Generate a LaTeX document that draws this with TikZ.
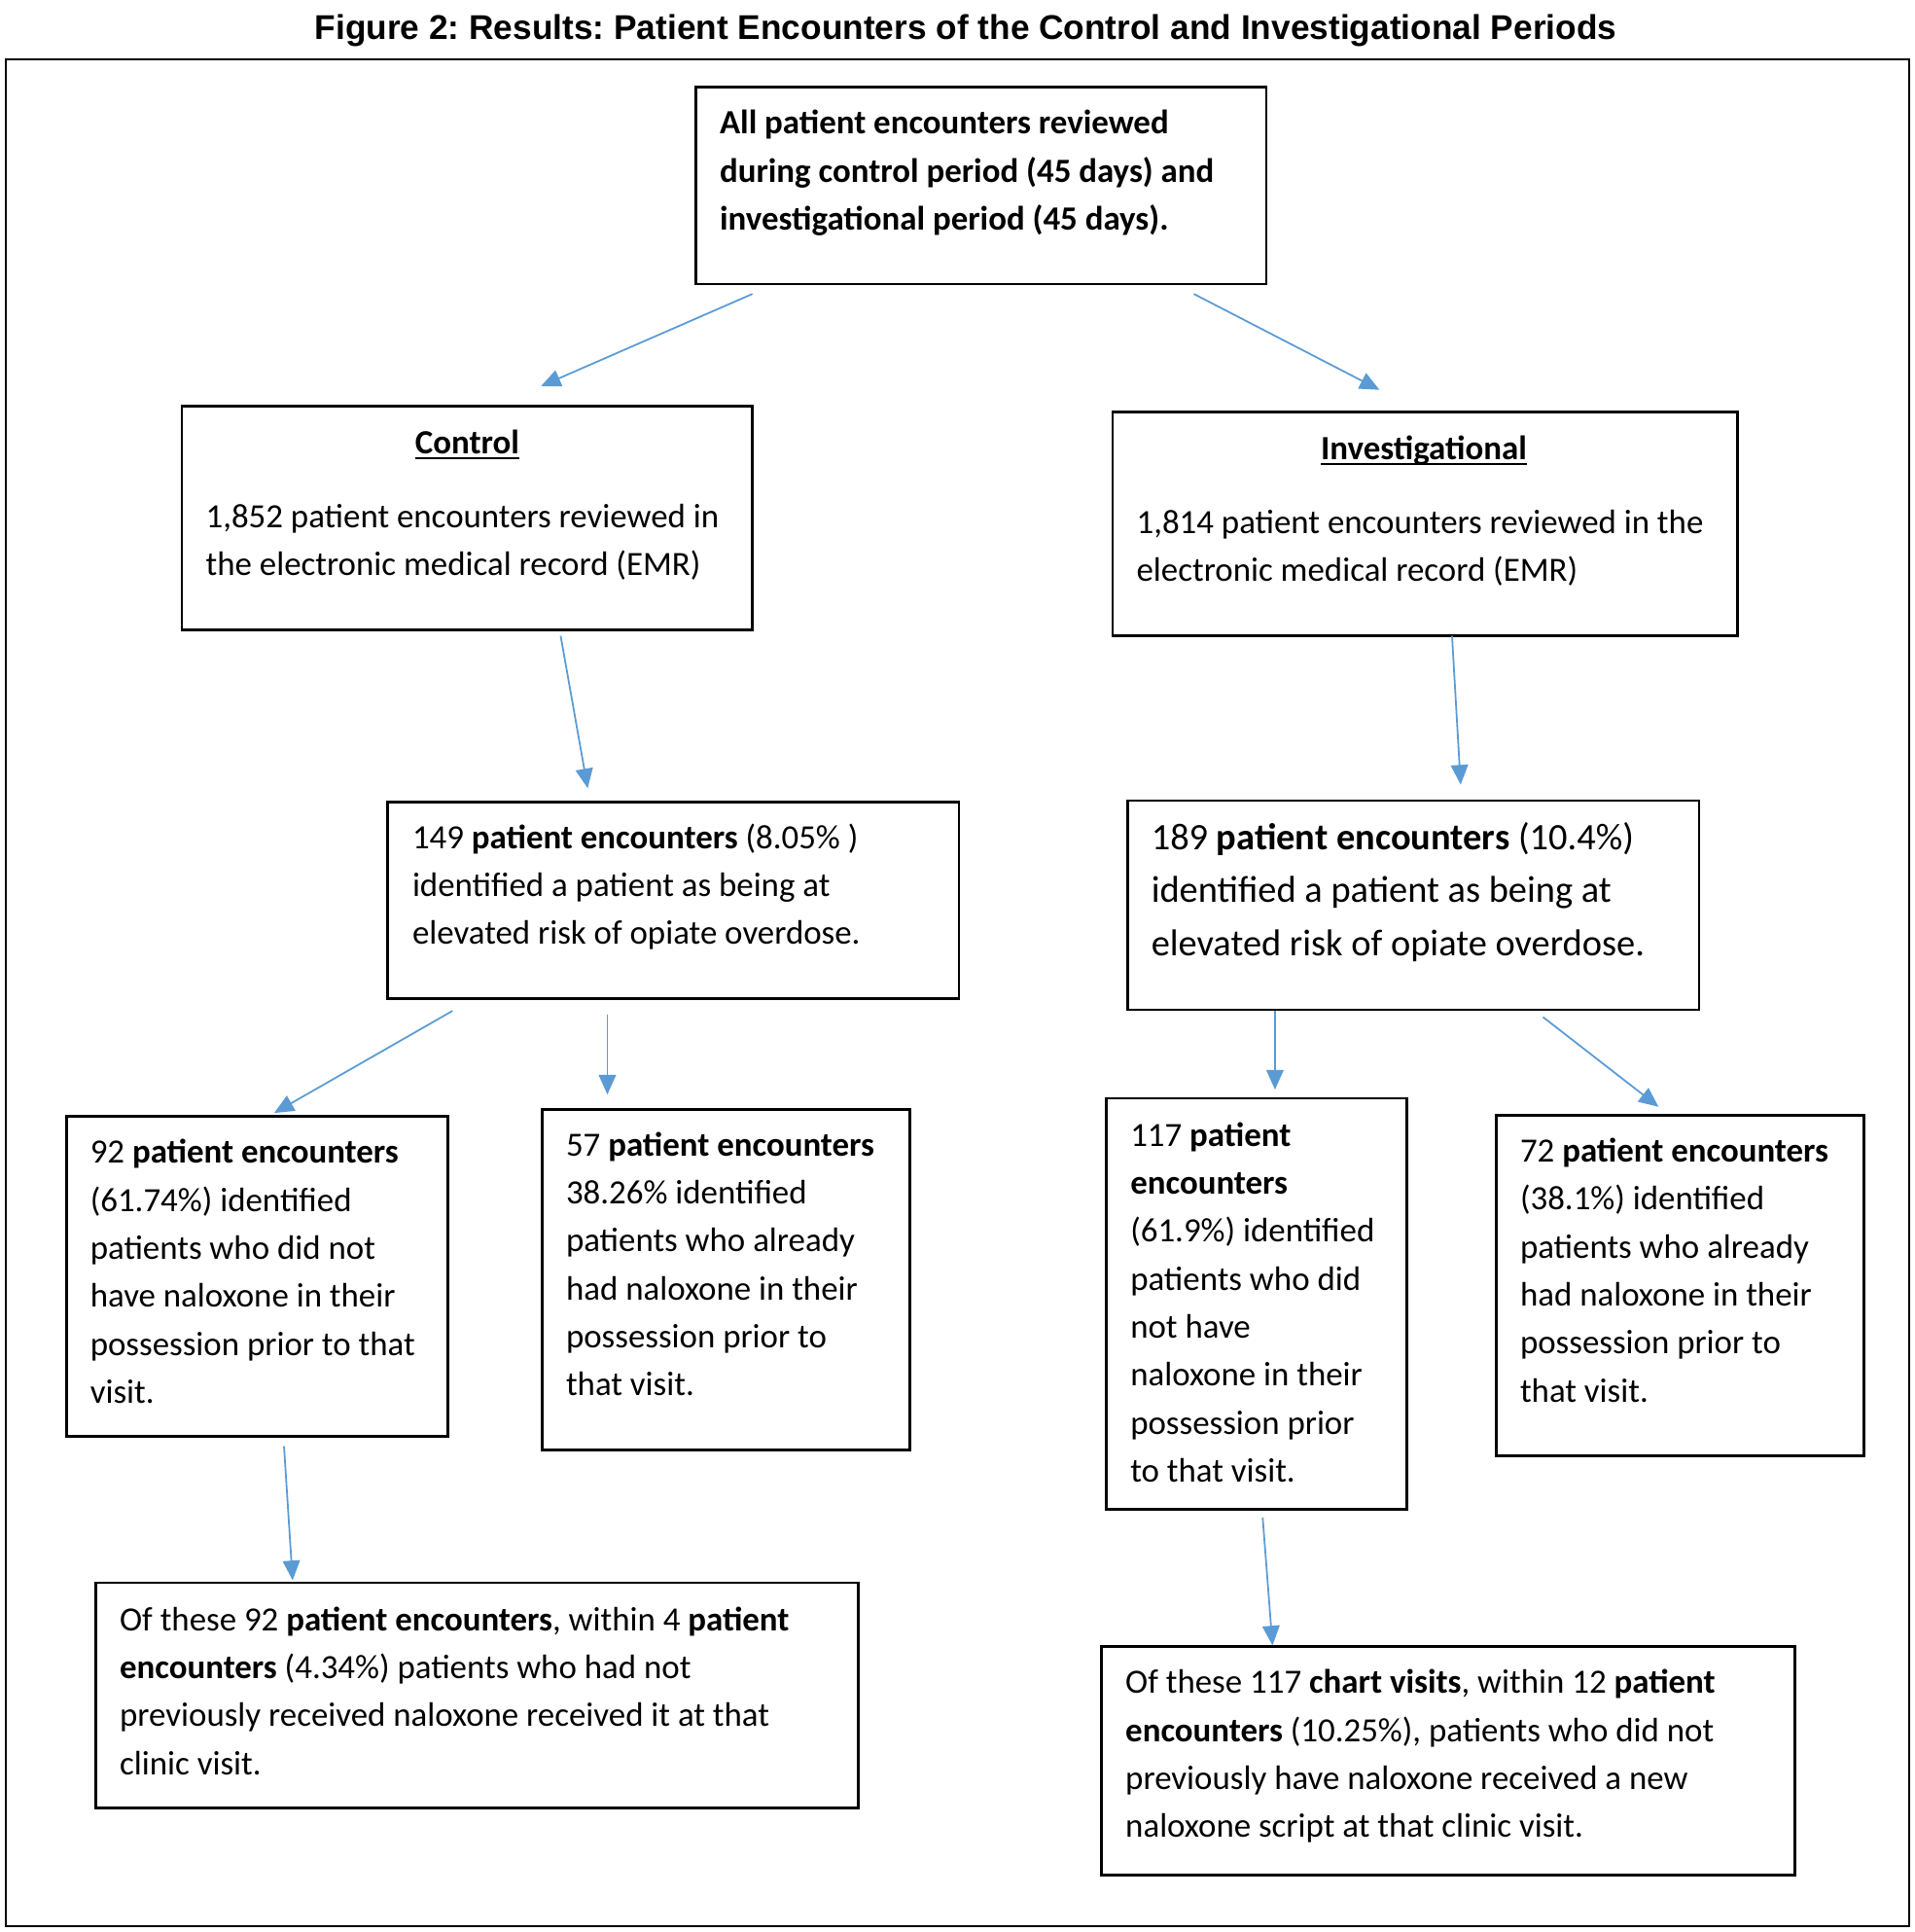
\documentclass[tikz,border=0pt]{standalone}
\usepackage{fontspec}
\setmainfont{Carlito}
\newfontfamily\titlefont{Liberation Sans}
\usetikzlibrary{arrows.meta,fit}
\definecolor{arrblue}{HTML}{5B9BD5}
\newcommand\myul[1]{\setbox0\hbox{#1}\rlap{\rule[-2pt]{\wd0}{0.8pt}}\box0}
\frenchspacing
\begin{document}
\begin{tikzpicture}[x=0.5pt,y=-0.5pt,
  box/.style={draw=black,line width=1.1pt,inner sep=0pt},
  frame/.style={draw=black,line width=0.8pt,inner sep=0pt},
  txt/.style={inner sep=0pt,align=left,anchor=base west,font=\fontsize{13.8}{19.5}\selectfont},
  bigtxt/.style={inner sep=0pt,align=left,anchor=base west,font=\fontsize{15.2}{21.5}\selectfont},
  head/.style={inner sep=0pt,anchor=base,font=\fontsize{13.8}{19.5}\selectfont\bfseries},
  arr/.style={draw=arrblue,line width=0.7pt,-{Triangle[length=8pt,width=7pt]}}]
\useasboundingbox (0,0) rectangle (1557,1571);
% title
\node[inner sep=0pt,anchor=base,font=\titlefont\bfseries\fontsize{13.95}{16}\selectfont] (title) at (785.5,32) {Figure 2: Results: Patient Encounters of the Control and Investigational Periods};
% outer frame
\node[frame,fit={(5,48) (1553,1566)}] (outer) {};
% boxes
\node[box,fit={(566,71) (1030,231)}] (top) {};
\node[box,fit={(148,330) (612,512)}] (ctrl) {};
\node[box,fit={(905,335) (1413,517)}] (inv) {};
\node[box,fit={(315,652) (780,812)}] (cA) {};
\node[box,fit={(917,651) (1382,821)}] (iA) {};
\node[box,fit={(54,908) (364,1168)}] (cB) {};
\node[box,fit={(441,902) (740,1179)}] (cC) {};
\node[box,fit={(900,893) (1144,1227)}] (iB) {};
\node[box,fit={(1217,907) (1516,1184)}] (iC) {};
\node[box,fit={(78,1287) (698,1470)}] (cD) {};
\node[box,fit={(896,1339) (1460,1525)}] (iD) {};
% texts (anchored at the baseline of their last line)
\node[txt,font=\fontsize{13.8}{19.5}\selectfont\bfseries] (topt) at (585,187) {All patient encounters reviewed\\during control period (45 days) and\\investigational period (45 days).};
\node[head] (ctrlh) at (380,369) {\myul{Control}};
\node[txt] (ctrlt) at (167,468) {1,852 patient encounters reviewed in\\the electronic medical record (EMR)};
\node[head] (invh) at (1158,374) {\myul{Investigational}};
\node[txt] (invt) at (924,473) {1,814 patient encounters reviewed in the\\electronic medical record (EMR)};
\node[txt] (cAt) at (335,768) {149 \textbf{patient encounters} (8.05\% )\\identified a patient as being at\\elevated risk of opiate overdose.};
\node[bigtxt] (iAt) at (936,777) {189 \textbf{patient encounters} (10.4\%)\\identified a patient as being at\\elevated risk of opiate overdose.};
\node[txt] (cBt) at (73,1141) {92 \textbf{patient encounters}\\(61.74\%) identified\\patients who did not\\have naloxone in their\\possession prior to that\\visit.};
\node[txt] (cCt) at (460,1135) {57 \textbf{patient encounters}\\38.26\% identified\\patients who already\\had naloxone in their\\possession prior to\\that visit.};
\node[txt] (iBt) at (919,1205) {117 \textbf{patient}\\\textbf{encounters}\\(61.9\%) identified\\patients who did\\not have\\naloxone in their\\possession prior\\to that visit.};
\node[txt] (iCt) at (1236,1140) {72 \textbf{patient encounters}\\(38.1\%) identified\\patients who already\\had naloxone in their\\possession prior to\\that visit.};
\node[txt] (cDt) at (97,1443) {Of these 92 \textbf{patient encounters}, within 4 \textbf{patient}\\\textbf{encounters} (4.34\%) patients who had not\\previously received naloxone received it at that\\clinic visit.};
\node[txt] (iDt) at (915,1494) {Of these 117 \textbf{chart visits}, within 12 \textbf{patient}\\\textbf{encounters} (10.25\%), patients who did not\\previously have naloxone received a new\\naloxone script at that clinic visit.};
% arrow end points
\coordinate (a1s) at (612,239); \coordinate (a1e) at (440,314);
\coordinate (a2s) at (971,239); \coordinate (a2e) at (1122,317);
\coordinate (a3s) at (456,517); \coordinate (a3e) at (478,641);
\coordinate (a4s) at (1181,517); \coordinate (a4e) at (1188,638);
\coordinate (a5s) at (368,822); \coordinate (a5e) at (223,905);
\coordinate (a6s) at (494,825); \coordinate (a6e) at (494,890);
\coordinate (a7s) at (1037,822); \coordinate (a7e) at (1037,886);
\coordinate (a8s) at (1255,827); \coordinate (a8e) at (1349,900);
\coordinate (a9s) at (231,1176); \coordinate (a9e) at (238,1285);
\coordinate (a10s) at (1027,1234); \coordinate (a10e) at (1035,1338);
\draw[arr] (a1s) -- (a1e);
\draw[arr] (a2s) -- (a2e);
\draw[arr] (a3s) -- (a3e);
\draw[arr] (a4s) -- (a4e);
\draw[arr] (a5s) -- (a5e);
\draw[arr] (a6s) -- (a6e);
\draw[arr] (a7s) -- (a7e);
\draw[arr] (a8s) -- (a8e);
\draw[arr] (a9s) -- (a9e);
\draw[arr] (a10s) -- (a10e);
\end{tikzpicture}
\end{document}
